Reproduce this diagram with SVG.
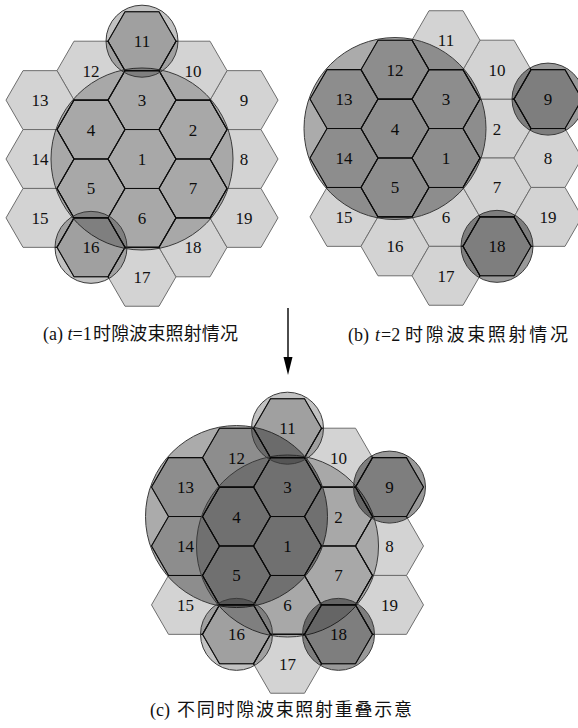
<svg xmlns="http://www.w3.org/2000/svg" xmlns:xlink="http://www.w3.org/1999/xlink" width="578" height="728" viewBox="0 0 578 728">
<style>
.cell{fill:#d3d3d3;stroke:#6e6e6e;stroke-width:1}
.num{font-family:"Liberation Serif","Times New Roman",serif;font-size:17px;fill:#111;text-anchor:middle}
.cap{font-family:"Liberation Serif","Noto Sans CJK SC",serif;font-size:18px;fill:#111}
.cjk{font-family:"Noto Sans CJK SC","Liberation Serif",sans-serif}
.t1{fill:#000;fill-opacity:0.2;stroke:#3a3a3a;stroke-width:1}
.t1s{fill:#000;fill-opacity:0.24;stroke:#3a3a3a;stroke-width:1}
.t2{fill:#000;fill-opacity:0.33;stroke:#3a3a3a;stroke-width:1}
.t2s{fill:#000;fill-opacity:0.4;stroke:#3a3a3a;stroke-width:1}
.edge{fill:none;stroke:#111;stroke-width:1.1}
</style>
<defs>
<path id="hex" d="M-34,0 L-17,-29.45 L17,-29.45 L34,0 L17,29.45 L-17,29.45 Z"/>
<g id="grid">
<use href="#hex" x="0" y="0"/><use href="#hex" x="51" y="-29.45"/><use href="#hex" x="0" y="-58.9"/><use href="#hex" x="-51" y="-29.45"/><use href="#hex" x="-51" y="29.45"/><use href="#hex" x="0" y="58.9"/><use href="#hex" x="51" y="29.45"/><use href="#hex" x="102" y="0"/><use href="#hex" x="102" y="-58.9"/><use href="#hex" x="51" y="-88.35"/><use href="#hex" x="0" y="-117.8"/><use href="#hex" x="-51" y="-88.35"/><use href="#hex" x="-102" y="-58.9"/><use href="#hex" x="-102" y="0"/><use href="#hex" x="-102" y="58.9"/><use href="#hex" x="-51" y="88.35"/><use href="#hex" x="0" y="117.8"/><use href="#hex" x="51" y="88.35"/><use href="#hex" x="102" y="58.9"/>
</g>
<clipPath id="clip-a" clipPathUnits="userSpaceOnUse"><circle cx="0" cy="0" r="91"/><circle cx="0" cy="-117.8" r="36"/><circle cx="-51" cy="88.35" r="36"/></clipPath>
<clipPath id="clip-b" clipPathUnits="userSpaceOnUse"><circle cx="-51" cy="-29.45" r="91"/><circle cx="102" cy="-58.9" r="36"/><circle cx="51" cy="88.35" r="36"/></clipPath>
<clipPath id="clip-c" clipPathUnits="userSpaceOnUse"><circle cx="0" cy="0" r="91"/><circle cx="0" cy="-117.8" r="36"/><circle cx="-51" cy="88.35" r="36"/><circle cx="-51" cy="-29.45" r="91"/><circle cx="102" cy="-58.9" r="36"/><circle cx="51" cy="88.35" r="36"/></clipPath>
</defs>

<!-- Panel (a) -->
<g id="panel-a" transform="translate(142,159)">
<g id="a1"><use href="#hex" class="cell" x="0" y="0"/><text class="num" x="0" y="6">1</text></g>
<g id="a2"><use href="#hex" class="cell" x="51" y="-29.45"/><text class="num" x="51" y="-23.45">2</text></g>
<g id="a3"><use href="#hex" class="cell" x="0" y="-58.9"/><text class="num" x="0" y="-52.9">3</text></g>
<g id="a4"><use href="#hex" class="cell" x="-51" y="-29.45"/><text class="num" x="-51" y="-23.45">4</text></g>
<g id="a5"><use href="#hex" class="cell" x="-51" y="29.45"/><text class="num" x="-51" y="35.45">5</text></g>
<g id="a6"><use href="#hex" class="cell" x="0" y="58.9"/><text class="num" x="0" y="64.9">6</text></g>
<g id="a7"><use href="#hex" class="cell" x="51" y="29.45"/><text class="num" x="51" y="35.45">7</text></g>
<g id="a8"><use href="#hex" class="cell" x="102" y="0"/><text class="num" x="102" y="6">8</text></g>
<g id="a9"><use href="#hex" class="cell" x="102" y="-58.9"/><text class="num" x="102" y="-52.9">9</text></g>
<g id="a10"><use href="#hex" class="cell" x="51" y="-88.35"/><text class="num" x="51" y="-82.35">10</text></g>
<g id="a11"><use href="#hex" class="cell" x="0" y="-117.8"/><text class="num" x="0" y="-111.8">11</text></g>
<g id="a12"><use href="#hex" class="cell" x="-51" y="-88.35"/><text class="num" x="-51" y="-82.35">12</text></g>
<g id="a13"><use href="#hex" class="cell" x="-102" y="-58.9"/><text class="num" x="-102" y="-52.9">13</text></g>
<g id="a14"><use href="#hex" class="cell" x="-102" y="0"/><text class="num" x="-102" y="6">14</text></g>
<g id="a15"><use href="#hex" class="cell" x="-102" y="58.9"/><text class="num" x="-102" y="64.9">15</text></g>
<g id="a16"><use href="#hex" class="cell" x="-51" y="88.35"/><text class="num" x="-51" y="94.35">16</text></g>
<g id="a17"><use href="#hex" class="cell" x="0" y="117.8"/><text class="num" x="0" y="123.8">17</text></g>
<g id="a18"><use href="#hex" class="cell" x="51" y="88.35"/><text class="num" x="51" y="94.35">18</text></g>
<g id="a19"><use href="#hex" class="cell" x="102" y="58.9"/><text class="num" x="102" y="64.9">19</text></g>
<use href="#grid" class="edge" clip-path="url(#clip-a)"/>
<g id="beams-a">
<circle class="t1" cx="0" cy="0" r="91"/>
<circle class="t1s" cx="0" cy="-117.8" r="36"/>
<circle class="t1s" cx="-51" cy="88.35" r="36"/>
</g>
</g>

<!-- Panel (b) -->
<g id="panel-b" transform="translate(446,158)">
<g id="b1"><use href="#hex" class="cell" x="0" y="0"/><text class="num" x="0" y="6">1</text></g>
<g id="b2"><use href="#hex" class="cell" x="51" y="-29.45"/><text class="num" x="51" y="-23.45">2</text></g>
<g id="b3"><use href="#hex" class="cell" x="0" y="-58.9"/><text class="num" x="0" y="-52.9">3</text></g>
<g id="b4"><use href="#hex" class="cell" x="-51" y="-29.45"/><text class="num" x="-51" y="-23.45">4</text></g>
<g id="b5"><use href="#hex" class="cell" x="-51" y="29.45"/><text class="num" x="-51" y="35.45">5</text></g>
<g id="b6"><use href="#hex" class="cell" x="0" y="58.9"/><text class="num" x="0" y="64.9">6</text></g>
<g id="b7"><use href="#hex" class="cell" x="51" y="29.45"/><text class="num" x="51" y="35.45">7</text></g>
<g id="b8"><use href="#hex" class="cell" x="102" y="0"/><text class="num" x="102" y="6">8</text></g>
<g id="b9"><use href="#hex" class="cell" x="102" y="-58.9"/><text class="num" x="102" y="-52.9">9</text></g>
<g id="b10"><use href="#hex" class="cell" x="51" y="-88.35"/><text class="num" x="51" y="-82.35">10</text></g>
<g id="b11"><use href="#hex" class="cell" x="0" y="-117.8"/><text class="num" x="0" y="-111.8">11</text></g>
<g id="b12"><use href="#hex" class="cell" x="-51" y="-88.35"/><text class="num" x="-51" y="-82.35">12</text></g>
<g id="b13"><use href="#hex" class="cell" x="-102" y="-58.9"/><text class="num" x="-102" y="-52.9">13</text></g>
<g id="b14"><use href="#hex" class="cell" x="-102" y="0"/><text class="num" x="-102" y="6">14</text></g>
<g id="b15"><use href="#hex" class="cell" x="-102" y="58.9"/><text class="num" x="-102" y="64.9">15</text></g>
<g id="b16"><use href="#hex" class="cell" x="-51" y="88.35"/><text class="num" x="-51" y="94.35">16</text></g>
<g id="b17"><use href="#hex" class="cell" x="0" y="117.8"/><text class="num" x="0" y="123.8">17</text></g>
<g id="b18"><use href="#hex" class="cell" x="51" y="88.35"/><text class="num" x="51" y="94.35">18</text></g>
<g id="b19"><use href="#hex" class="cell" x="102" y="58.9"/><text class="num" x="102" y="64.9">19</text></g>
<use href="#grid" class="edge" clip-path="url(#clip-b)"/>
<g id="beams-b">
<circle class="t2" cx="-51" cy="-29.45" r="91"/>
<circle class="t2s" cx="102" cy="-58.9" r="36"/>
<circle class="t2s" cx="51" cy="88.35" r="36"/>
</g>
</g>

<!-- Panel (c) -->
<g id="panel-c" transform="translate(287.5,546)">
<g id="c1"><use href="#hex" class="cell" x="0" y="0"/><text class="num" x="0" y="6">1</text></g>
<g id="c2"><use href="#hex" class="cell" x="51" y="-29.45"/><text class="num" x="51" y="-23.45">2</text></g>
<g id="c3"><use href="#hex" class="cell" x="0" y="-58.9"/><text class="num" x="0" y="-52.9">3</text></g>
<g id="c4"><use href="#hex" class="cell" x="-51" y="-29.45"/><text class="num" x="-51" y="-23.45">4</text></g>
<g id="c5"><use href="#hex" class="cell" x="-51" y="29.45"/><text class="num" x="-51" y="35.45">5</text></g>
<g id="c6"><use href="#hex" class="cell" x="0" y="58.9"/><text class="num" x="0" y="64.9">6</text></g>
<g id="c7"><use href="#hex" class="cell" x="51" y="29.45"/><text class="num" x="51" y="35.45">7</text></g>
<g id="c8"><use href="#hex" class="cell" x="102" y="0"/><text class="num" x="102" y="6">8</text></g>
<g id="c9"><use href="#hex" class="cell" x="102" y="-58.9"/><text class="num" x="102" y="-52.9">9</text></g>
<g id="c10"><use href="#hex" class="cell" x="51" y="-88.35"/><text class="num" x="51" y="-82.35">10</text></g>
<g id="c11"><use href="#hex" class="cell" x="0" y="-117.8"/><text class="num" x="0" y="-111.8">11</text></g>
<g id="c12"><use href="#hex" class="cell" x="-51" y="-88.35"/><text class="num" x="-51" y="-82.35">12</text></g>
<g id="c13"><use href="#hex" class="cell" x="-102" y="-58.9"/><text class="num" x="-102" y="-52.9">13</text></g>
<g id="c14"><use href="#hex" class="cell" x="-102" y="0"/><text class="num" x="-102" y="6">14</text></g>
<g id="c15"><use href="#hex" class="cell" x="-102" y="58.9"/><text class="num" x="-102" y="64.9">15</text></g>
<g id="c16"><use href="#hex" class="cell" x="-51" y="88.35"/><text class="num" x="-51" y="94.35">16</text></g>
<g id="c17"><use href="#hex" class="cell" x="0" y="117.8"/><text class="num" x="0" y="123.8">17</text></g>
<g id="c18"><use href="#hex" class="cell" x="51" y="88.35"/><text class="num" x="51" y="94.35">18</text></g>
<g id="c19"><use href="#hex" class="cell" x="102" y="58.9"/><text class="num" x="102" y="64.9">19</text></g>
<use href="#grid" class="edge" clip-path="url(#clip-c)"/>
<g id="beams-c">
<circle class="t2" cx="-51" cy="-29.45" r="91"/>
<circle class="t1" cx="0" cy="0" r="91"/>
<circle class="t1s" cx="0" cy="-117.8" r="36"/>
<circle class="t1s" cx="-51" cy="88.35" r="36"/>
<circle class="t2s" cx="102" cy="-58.9" r="36"/>
<circle class="t2s" cx="51" cy="88.35" r="36"/>
</g>
</g>

<!-- Connectors -->
<g id="connectors">
<line x1="288" y1="308" x2="288" y2="360" stroke="#000" stroke-width="1.4"/>
<polygon points="283.5,357 292.5,357 288,375" fill="#000"/>
</g>

<!-- Captions -->
<g id="captions">
<text class="cap" x="43" y="340">(a) <tspan font-style="italic">t</tspan>=1<tspan class="cjk" x="93" textLength="145">时隙波束照射情况</tspan></text>
<text class="cap" y="341" font-size="19.5"><tspan x="348">(b)</tspan><tspan x="375" font-style="italic">t</tspan><tspan x="381">=2</tspan><tspan class="cjk" x="405" textLength="163">时隙波束照射情况</tspan></text>
<text class="cap" x="150" y="716" font-size="19">(c) <tspan class="cjk" x="177" textLength="235">不同时隙波束照射重叠示意</tspan></text>
</g>
</svg>
